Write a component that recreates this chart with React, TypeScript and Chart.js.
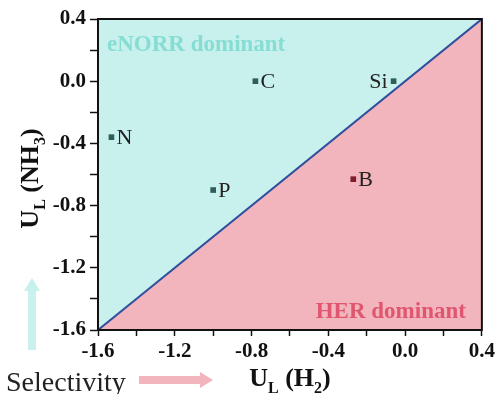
import React, { useEffect, useRef } from "react";
import { Chart, registerables } from "chart.js";

Chart.register(...registerables);

// ---- data ----
const dopants = ["C", "Si", "N", "P", "B"];
const ulH2 = [-0.78, -0.06, -1.53, -1.0, -0.27];
const ulNH3 = [0.0, 0.0, -0.36, -0.7, -0.63];
const axisMin = -1.6;
const axisMax = 0.4;
const tickStep = 0.2;
const regionTexts = ["eNORR dominant", "HER dominant"];
const xTitleParts = [["U", false], ["L", true], [" (H", false], ["2", true], [")", false]];
const yTitleParts = [["U", false], ["L", true], [" (NH", false], ["3", true], [")", false]];
const footerText = "Selectivity";

const SERIF = "'Liberation Serif', 'Times New Roman', serif";
const CYAN = "#c8f0ec";
const PINK = "#f2b4bd";

function drawRich(ctx: CanvasRenderingContext2D, parts: any[], x: number, y: number, rot: number, size: number) {
  const subSize = Math.round(size * 0.62);
  ctx.save();
  ctx.translate(x, y);
  ctx.rotate(rot);
  let total = 0;
  const widths: number[] = [];
  for (const [t, sub] of parts) {
    ctx.font = `bold ${sub ? subSize : size}px ${SERIF}`;
    const w = ctx.measureText(t).width;
    widths.push(w);
    total += w;
  }
  let cx = -total / 2;
  ctx.fillStyle = "#111";
  ctx.textBaseline = "alphabetic";
  ctx.textAlign = "left";
  parts.forEach(([t, sub], i) => {
    ctx.font = `bold ${sub ? subSize : size}px ${SERIF}`;
    ctx.fillText(t, cx, sub ? size * 0.28 : 0);
    cx += widths[i];
  });
  ctx.restore();
}

const decorPlugin = {
  id: "decor",
  afterDatasetsDraw(chart: any) {
    const { ctx, chartArea: a, scales } = chart;
    const xs = scales.x;
    const ys = scales.y;
    // point labels
    ctx.save();
    ctx.font = `22px ${SERIF}`;
    ctx.fillStyle = "#222";
    ctx.textBaseline = "middle";
    dopants.forEach((name, i) => {
      const px = xs.getPixelForValue(ulH2[i]);
      const py = ys.getPixelForValue(ulNH3[i]);
      if (name === "Si") {
        ctx.textAlign = "right";
        ctx.fillText(name, px - 6, py + 1);
      } else {
        ctx.textAlign = "left";
        ctx.fillText(name, px + 5, py + 1);
      }
    });
    // region texts
    ctx.font = `bold 23px ${SERIF}`;
    ctx.textAlign = "left";
    ctx.fillStyle = "#86ddd4";
    ctx.fillText(regionTexts[0], a.left + 9, a.top + 26);
    ctx.textAlign = "right";
    ctx.fillStyle = "#e0566f";
    ctx.fillText(regionTexts[1], a.right - 16, a.bottom - 18);
    // frame
    ctx.strokeStyle = "#111";
    ctx.lineWidth = 2;
    ctx.strokeRect(a.left, a.top, a.right - a.left, a.bottom - a.top);
    ctx.restore();
  },
  afterDraw(chart: any) {
    const { ctx, chartArea: a } = chart;
    const cxm = (a.left + a.right) / 2;
    const cym = (a.top + a.bottom) / 2;
    drawRich(ctx, xTitleParts, cxm, a.bottom + 56, 0, 26);
    drawRich(ctx, yTitleParts, 38, cym + 4, -Math.PI / 2, 26);
    ctx.save();
    // Selectivity
    ctx.font = `28px ${SERIF}`;
    ctx.fillStyle = "#222";
    ctx.textAlign = "left";
    ctx.textBaseline = "alphabetic";
    ctx.fillText(footerText, 6, 391);
    // pink arrow (right)
    ctx.fillStyle = PINK;
    ctx.beginPath();
    ctx.moveTo(139, 376);
    ctx.lineTo(200, 376);
    ctx.lineTo(200, 372);
    ctx.lineTo(213, 380);
    ctx.lineTo(200, 388);
    ctx.lineTo(200, 384);
    ctx.lineTo(139, 384);
    ctx.closePath();
    ctx.fill();
    // cyan arrow (up)
    ctx.fillStyle = CYAN;
    ctx.beginPath();
    ctx.moveTo(28, 350);
    ctx.lineTo(28, 291);
    ctx.lineTo(24, 291);
    ctx.lineTo(32, 278);
    ctx.lineTo(40, 291);
    ctx.lineTo(36, 291);
    ctx.lineTo(36, 350);
    ctx.closePath();
    ctx.fill();
    ctx.restore();
  },
};

function tickLabel(v: any) {
  const n = Number(v);
  const k = Math.round(n * 10);
  if (Math.abs(k) % 4 !== 0) return "";
  if (k === 0) return "0.0";
  return (k / 10).toFixed(1);
}

export default function App() {
  const ref = useRef<HTMLCanvasElement>(null);
  useEffect(() => {
    if (!ref.current) return;
    const diag = [
      { x: axisMin, y: axisMin },
      { x: axisMax, y: axisMax },
    ];
    const pts = dopants.map((_, i) => ({ x: ulH2[i], y: ulNH3[i] }));
    const chart = new Chart(ref.current, {
      type: "line",
      data: {
        datasets: [
          {
            data: diag,
            borderColor: "rgba(0,0,0,0)",
            borderWidth: 0,
            pointRadius: 0,
            fill: "start",
            backgroundColor: PINK,
            order: 3,
          } as any,
          {
            data: diag,
            borderColor: "#2d4f9e",
            borderWidth: 2,
            pointRadius: 0,
            fill: "end",
            backgroundColor: CYAN,
            order: 2,
          } as any,
          {
            type: "scatter",
            data: pts,
            showLine: false,
            pointStyle: "rect",
            pointRadius: 4,
            pointBorderWidth: 0,
            pointBackgroundColor: (c: any) => {
              const p = pts[c.dataIndex];
              return p && p.y < p.x ? "#7a1f2d" : "#2f5e58";
            },
            order: 1,
          } as any,
        ],
      },
      options: {
        animation: false,
        responsive: false,
        maintainAspectRatio: false,
        layout: { padding: { top: 19, right: 16, left: 0, bottom: 0 } },
        plugins: { legend: { display: false }, tooltip: { enabled: false } },
        scales: {
          x: {
            type: "linear",
            min: axisMin,
            max: axisMax,
            ticks: {
              stepSize: tickStep,
              autoSkip: false,
              maxRotation: 0,
              padding: 3,
              color: "#111",
              font: { family: SERIF, size: 21, weight: "bold" },
              callback: tickLabel,
            },
            grid: { drawOnChartArea: false, drawTicks: true, tickLength: 6, color: "#111", tickWidth: 1.5 },
            border: { display: true, color: "#111", width: 2 },
            afterFit: (s: any) => {
              s.height = 64;
            },
          },
          y: {
            type: "linear",
            min: axisMin,
            max: axisMax,
            ticks: {
              stepSize: tickStep,
              autoSkip: false,
              padding: 4,
              color: "#111",
              font: { family: SERIF, size: 21, weight: "bold" },
              callback: tickLabel,
            },
            grid: { drawOnChartArea: false, drawTicks: true, tickLength: 8, color: "#111", tickWidth: 1.5 },
            border: { display: true, color: "#111", width: 2 },
            afterFit: (s: any) => {
              s.width = 98;
            },
          },
        },
      } as any,
      plugins: [decorPlugin],
    });
    return () => chart.destroy();
  }, []);
  return (
    <div style={{ position: "fixed", left: 0, top: 0, width: 498, height: 394, background: "#fff" }}>
      <canvas ref={ref} width={498} height={394} style={{ width: 498, height: 394 }} />
    </div>
  );
}
